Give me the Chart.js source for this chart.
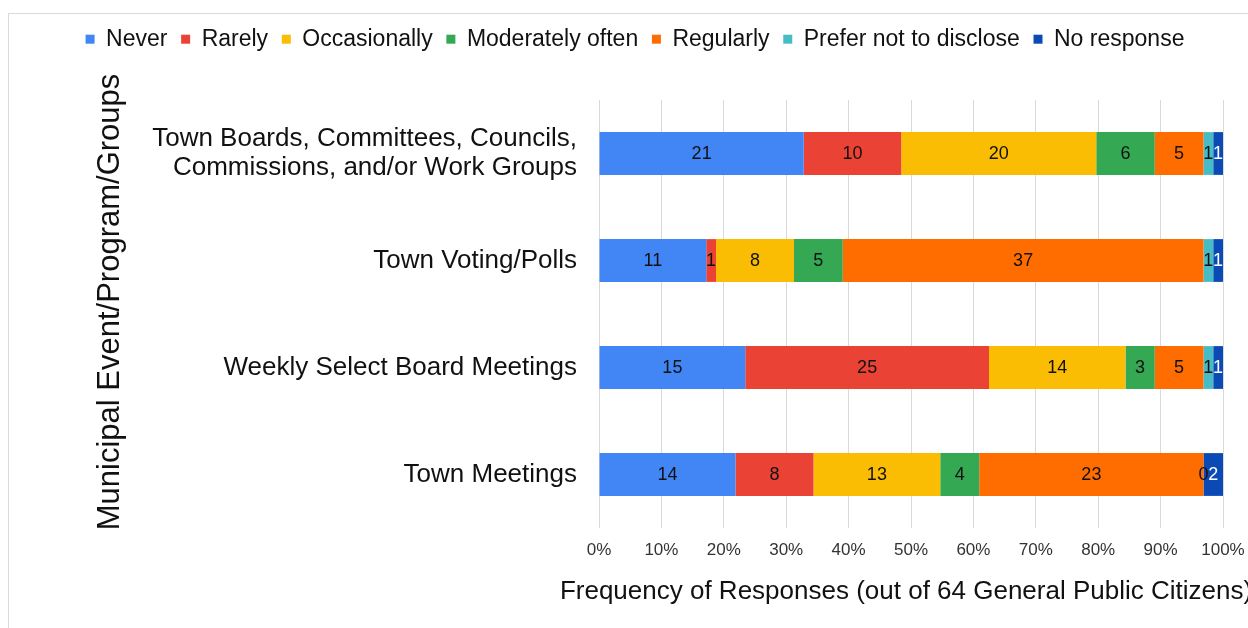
<!DOCTYPE html>
<html>
<head>
<meta charset="utf-8">
<script src="https://cdn.jsdelivr.net/npm/chart.js@4"></script>
<style>
  html, body { margin: 0; padding: 0; background: #fff; overflow: hidden; }
  #wrap { position: relative; width: 1248px; height: 628px; }
  #frame {
    position: absolute; left: 8px; top: 13px; width: 2000px; height: 2000px;
    border: 1px solid #dadada; pointer-events: none;
  }
  canvas { position: absolute; left: 0; top: 0; }
</style>
</head>
<body>
<div id="wrap">
  <canvas id="chart-freq" width="1248" height="628"></canvas>
  <div id="frame"></div>
</div>
<script>
// Responses per event, out of 64 respondents
const TOTAL = 64;
const events = [
  ["Town Boards, Committees, Councils,", "Commissions, and/or Work Groups"],
  "Town Voting/Polls",
  "Weekly Select Board Meetings",
  "Town Meetings",
];
const never = [21, 11, 15, 14];
const rarely = [10, 1, 25, 8];
const occasionally = [20, 8, 14, 13];
const moderatelyOften = [6, 5, 3, 4];
const regularly = [5, 37, 5, 23];
const preferNot = [1, 1, 1, 0];
const noResponse = [1, 1, 1, 2];
const xTicks = [0, 10, 20, 30, 40, 50, 60, 70, 80, 90, 100];
const xTitle = "Frequency of Responses (out of 64 General Public Citizens)";
const yTitle = "Municipal Event/Program/Groups";

const COLORS = {
  blue: "#4285f4",
  red: "#ea4335",
  yellow: "#fbbc04",
  green: "#34a853",
  orange: "#ff6d01",
  teal: "#46bdc6",
  navy: "#0b4ab5",
};

const series = [
  { label: "Never", counts: never, color: COLORS.blue },
  { label: "Rarely", counts: rarely, color: COLORS.red },
  { label: "Occasionally", counts: occasionally, color: COLORS.yellow },
  { label: "Moderately often", counts: moderatelyOften, color: COLORS.green },
  { label: "Regularly", counts: regularly, color: COLORS.orange },
  { label: "Prefer not to disclose", counts: preferNot, color: COLORS.teal },
  { label: "No response", counts: noResponse, color: COLORS.navy, textColor: "#fff" },
];

const FONT = "'Liberation Sans', Arial, sans-serif";
const PAD_LEFT = 47;

// ── Count labels in the middle of each segment ──────────────────────────────
const segmentLabels = {
  id: "segmentLabels",
  afterDatasetsDraw(chart) {
    const ctx = chart.ctx;
    ctx.save();
    ctx.font = `18px ${FONT}`;
    ctx.textAlign = "center";
    ctx.textBaseline = "middle";
    chart.data.datasets.forEach((ds, i) => {
      const meta = chart.getDatasetMeta(i);
      ctx.fillStyle = series[i].textColor || "#111";
      meta.data.forEach((bar, j) => {
        const { x, y, base } = bar.getProps(["x", "y", "base"], true);
        ctx.fillText(String(series[i].counts[j]), (x + base) / 2, y + 1);
      });
    });
    ctx.restore();
  },
};

// ── Axis titles, drawn without the width clamp Chart.js applies ─────────────
const axisTitles = {
  id: "axisTitles",
  afterDraw(chart) {
    const ctx = chart.ctx;
    const area = chart.chartArea;
    ctx.save();
    ctx.fillStyle = "#111";
    ctx.textAlign = "center";
    ctx.textBaseline = "middle";
    ctx.font = `26px ${FONT}`;
    ctx.fillText(xTitle, (area.left + area.right) / 2 - 5, 592);
    ctx.translate(110, 302);
    ctx.rotate(-Math.PI / 2);
    ctx.font = `31px ${FONT}`;
    ctx.fillText(yTitle, 0, 0);
    ctx.restore();
  },
};

// ── Legend takes the whole band above the plot ──────────────────────────────
const legendGap = {
  id: "legendGap",
  beforeInit(chart) {
    const fit = chart.legend.fit;
    chart.legend.fit = function () {
      fit.call(this);
      this.height = 86;
    };
  },
};

new Chart(document.getElementById("chart-freq"), {
  type: "bar",
  data: {
    labels: events,
    datasets: series.map((s) => ({
      label: s.label,
      data: s.counts.map((c) => (c / TOTAL) * 100),
      backgroundColor: s.color,
      borderWidth: 0,
      categoryPercentage: 0.8,
      barPercentage: 0.5,
    })),
  },
  options: {
    indexAxis: "y",
    responsive: false,
    animation: false,
    layout: { padding: { top: 14, left: PAD_LEFT, right: 25, bottom: 0 } },
    plugins: {
      legend: {
        position: "top",
        labels: {
          boxWidth: 9,
          boxHeight: 9,
          padding: 13.7,
          color: "#111",
          font: { family: FONT, size: 23 },
        },
      },
      tooltip: { enabled: false },
    },
    scales: {
      x: {
        stacked: true,
        min: 0,
        max: 100,
        afterBuildTicks: (scale) => {
          scale.ticks = xTicks.map((v) => ({ value: v }));
        },
        afterFit: (scale) => {
          scale.height = 100;
          scale.paddingLeft = 0;
          scale.paddingRight = 0;
        },
        grid: { color: "#d9d9d9", drawTicks: false },
        border: { display: false },
        ticks: {
          padding: 12,
          color: "#333",
          font: { family: FONT, size: 17 },
          callback: (v) => `${v}%`,
        },
      },
      y: {
        stacked: true,
        afterFit: (scale) => {
          scale.width = 599 - PAD_LEFT;
        },
        grid: { display: false, drawTicks: false },
        border: { display: false },
        ticks: {
          padding: 22,
          color: "#111",
          font: { family: FONT, size: 26, lineHeight: 1.1 },
        },
      },
    },
  },
  plugins: [segmentLabels, axisTitles, legendGap],
});
</script>
</body>
</html>
